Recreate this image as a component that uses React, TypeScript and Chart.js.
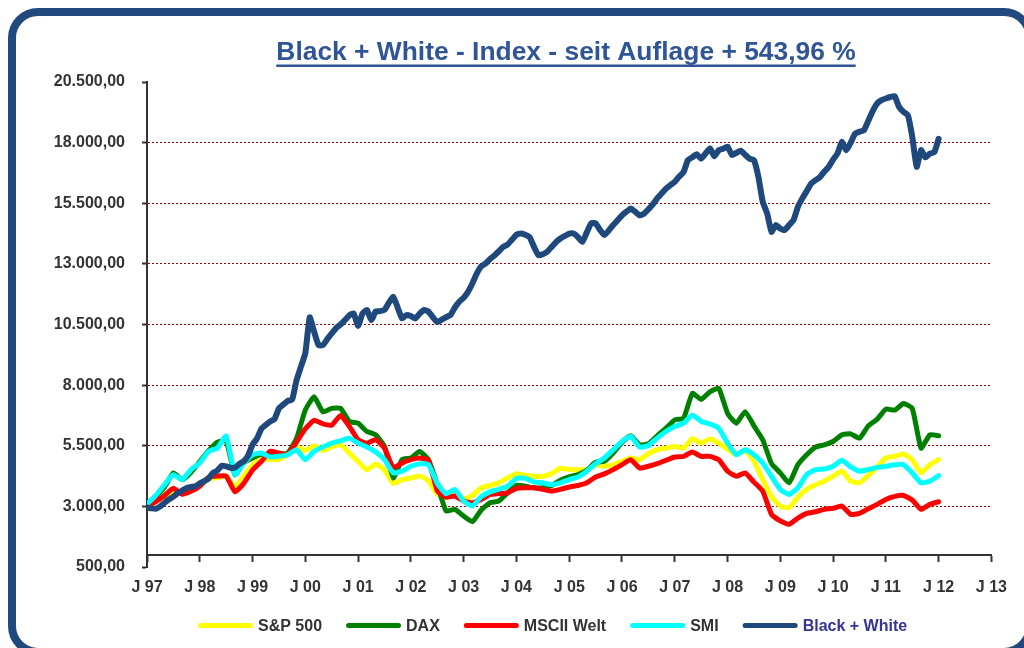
import React, { useEffect, useRef } from 'react';
import { Chart, registerables } from 'chart.js';

Chart.register(...registerables);

const TITLE = 'Black + White - Index - seit Auflage + 543,96 %';
const FIRST_YEAR = 1997;
const LAST_YEAR = 2013;
const Y_MIN = 500;
const Y_MAX = 20500;
const Y_STEP = 2500;
const X_AXIS_CROSS = 1000;

const seriesNames = ['S&P 500', 'DAX', 'MSCII Welt', 'SMI', 'Black + White'];
const seriesColors = ['#FFFF00', '#008000', '#FF0000', '#00FFFF', '#1F497D'];
const legendTextColors = ['#333333', '#333333', '#333333', '#333333', '#333399'];

// every two months, Jan 1997 .. Jan 2012
const sp500 = [
  2950, 3200, 3400, 3560, 3600, 3700, 3850, 4150, 4175, 4250,
  3800, 4250, 4700, 4950, 4930, 4930, 5150, 5450, 5300, 5500,
  5300, 5450, 5550, 5200, 4850, 4500, 4750, 4500, 3950, 4100,
  4170, 4250, 4050, 3500, 3380, 3560, 3310, 3450, 3765, 3860,
  3970, 4175, 4350, 4280, 4243, 4243, 4350, 4570, 4516, 4516,
  4516, 4710, 4653, 4710, 4860, 4995, 4926, 5170, 5335, 5404,
  5472, 5404, 5790, 5610, 5780, 5610, 5360, 5131, 5310, 4860,
  4107, 3400, 3014, 2945, 3380, 3700, 3890, 4040, 4243, 4450,
  4040, 3970, 4270, 4625, 4995, 5063, 5160, 4926, 4380, 4720, 4926,
];

const dax = [
  3100, 3400, 3800, 4380, 4100, 4400, 4850, 5300, 5650, 5700,
  4300, 4800, 5000, 5150, 5100, 5150, 5200, 5800, 6975, 7520,
  6900, 7043, 7043, 6500, 6430, 6090, 5950, 5472, 4175, 4926,
  4995, 5267, 4926, 3900, 2810, 2877, 2600, 2370, 2850, 3150,
  3220, 3560, 3870, 3833, 3765, 3765, 3860, 4080, 4215, 4310,
  4490, 4820, 4860, 5200, 5640, 5910, 5540, 5580, 5910, 6225,
  6565, 6630, 7658, 7410, 7726, 7863, 6838, 6430, 6907, 6320,
  5746, 4760, 4380, 3970, 4720, 5130, 5445, 5540, 5677, 5950,
  5990, 5815, 6320, 6590, 7010, 6970, 7240, 7043, 5404, 5950, 5910,
];

const msciWelt = [
  3000, 3200, 3450, 3750, 3500, 3620, 3830, 4200, 4250, 4250,
  3600, 3950, 4500, 4850, 5270, 5200, 5130, 5650, 6200, 6550,
  6400, 6350, 6750, 6300, 5750, 5600, 5750, 5400, 4600, 4790,
  4926, 4990, 4900, 3650, 3380, 3423, 3220, 3150, 3287, 3490,
  3530, 3560, 3740, 3765, 3765, 3700, 3630, 3700, 3800, 3860,
  3970, 4215, 4340, 4516, 4720, 4926, 4585, 4653, 4760, 4900,
  5035, 5063, 5240, 5063, 5063, 4926, 4450, 4243, 4380, 4000,
  3630, 2670, 2400, 2260, 2520, 2710, 2780, 2877, 2920, 3014,
  2672, 2710, 2900, 3082, 3287, 3410, 3450, 3260, 2877, 3082, 3190,
];

const smi = [
  3100, 3450, 3900, 4310, 4100, 4516, 4790, 5270, 5400, 5900,
  4310, 4790, 5130, 5200, 5035, 5063, 5130, 5335, 4926, 5267,
  5445, 5610, 5700, 5815, 5610, 5445, 5240, 4926, 4380, 4450,
  4653, 4760, 4720, 3950, 3520, 3697, 3220, 3014, 3400, 3600,
  3700, 3833, 4150, 4160, 4010, 3970, 3900, 3970, 4107, 4215,
  4450, 4760, 4995, 5335, 5680, 5882, 5445, 5510, 5815, 6087,
  6292, 6430, 6770, 6500, 6400, 6224, 5610, 5131, 5335, 5130,
  4790, 4243, 3700, 3490, 3765, 4310, 4516, 4540, 4653, 4900,
  4625, 4450, 4516, 4610, 4653, 4720, 4720, 4380, 3970, 4040, 4270,
];

// monthly, Jan 1997 .. Jan 2012
const blackWhite = [
  2950, 2920, 2900, 3000, 3150, 3290, 3400, 3550, 3650, 3760, 3800, 3830,
  3950, 4040, 4150, 4380, 4480, 4680, 4650, 4590, 4600, 4750, 4860, 5100,
  5550, 5800, 6200, 6360, 6500, 6600, 7040, 7200, 7350, 7400, 8200, 8760,
  9320, 10800, 10200, 9650, 9650, 9900, 10130, 10350, 10500, 10680, 10880, 10950,
  10440, 10960, 11100, 10680, 11040, 11050, 11100, 11400, 11640, 11200, 10750, 10890,
  10850, 10750, 10950, 11100, 11030, 10800, 10600, 10700, 10800, 10890, 11200, 11440,
  11600, 11850, 12200, 12610, 12900, 13020, 13200, 13350, 13520, 13700, 13800, 14000,
  14200, 14250, 14200, 14100, 13700, 13360, 13400, 13500, 13700, 13900, 14050, 14150,
  14250, 14250, 14100, 13910, 14300, 14670, 14670, 14400, 14190, 14380, 14600, 14800,
  15000, 15150, 15280, 15150, 15000, 15070, 15250, 15450, 15700, 15900, 16100, 16250,
  16380, 16600, 16790, 17280, 17400, 17520, 17340, 17550, 17760, 17440, 17690, 17750,
  17830, 17490, 17580, 17670, 17500, 17340, 17280, 16600, 15560, 15080, 14320, 14600,
  14450, 14400, 14600, 14810, 15350, 15700, 16000, 16310, 16450, 16580, 16800, 17000,
  17300, 17550, 18030, 17690, 18000, 18370, 18450, 18510, 18900, 19300, 19610, 19750,
  19820, 19880, 19910, 19470, 19270, 19130, 18240, 17000, 17690, 17390, 17550, 17600,
  18160,
];

const FONT = '"Liberation Sans", Arial, Helvetica, sans-serif';

const fmtDE = (v: number) =>
  Math.round(v).toString().replace(/\B(?=(\d{3})+(?!\d))/g, '.') + ',00';

const toPoints = (values: number[], perYear: number) =>
  values.map((v, i) => ({ x: FIRST_YEAR + i / perYear, y: v }));

const decorPlugin = {
  id: 'decor',
  afterDraw(chart: any) {
    const ctx = chart.ctx as CanvasRenderingContext2D;
    ctx.save();
    // outer rounded frame (right and bottom edges run just past the picture)
    const l = 12, t = 12, r = 1030, b = 652, rad = 26;
    ctx.strokeStyle = '#21497D';
    ctx.lineWidth = 8;
    ctx.beginPath();
    ctx.moveTo(l + rad, t);
    ctx.lineTo(r - rad, t);
    ctx.arcTo(r, t, r, t + rad, rad);
    ctx.lineTo(r, b - rad);
    ctx.arcTo(r, b, r - rad, b, rad);
    ctx.lineTo(l + rad, b);
    ctx.arcTo(l, b, l, b - rad, rad);
    ctx.lineTo(l, t + rad);
    ctx.arcTo(l, t, l + rad, t, rad);
    ctx.closePath();
    ctx.stroke();

    // title, underlined
    ctx.font = `bold 26.4px ${FONT}`;
    ctx.fillStyle = '#2F5597';
    ctx.textAlign = 'center';
    ctx.textBaseline = 'alphabetic';
    const cx = 566;
    ctx.fillText(TITLE, cx, 60);
    const tw = ctx.measureText(TITLE).width;
    ctx.fillRect(cx - tw / 2, 64.5, tw, 2.5);

    // legend
    ctx.font = `bold 16px ${FONT}`;
    const lineLen = 55, gap = 5, itemGap = 24, ly = 625.5;
    const items = chart.data.datasets.map((ds: any, i: number) => ({
      text: ds.label as string,
      color: ds.borderColor as string,
      textColor: legendTextColors[i],
    }));
    const widths = items.map((it: any) => lineLen + gap + ctx.measureText(it.text).width);
    let x = 198;
    items.forEach((it: any, i: number) => {
      ctx.strokeStyle = it.color;
      ctx.lineWidth = 5;
      ctx.lineCap = 'round';
      ctx.beginPath();
      ctx.moveTo(x + 2.5, ly);
      ctx.lineTo(x + lineLen - 2.5, ly);
      ctx.stroke();
      ctx.fillStyle = it.textColor;
      ctx.textAlign = 'left';
      ctx.textBaseline = 'middle';
      ctx.fillText(it.text, x + lineLen + gap, ly + 1);
      x += widths[i] + itemGap;
    });
    ctx.restore();
  },
};

export default function App() {
  const canvasRef = useRef<HTMLCanvasElement | null>(null);

  useEffect(() => {
    if (!canvasRef.current) return;
    const seriesData = [
      toPoints(sp500, 6),
      toPoints(dax, 6),
      toPoints(msciWelt, 6),
      toPoints(smi, 6),
      toPoints(blackWhite, 12),
    ];
    const chart = new Chart(canvasRef.current, {
      type: 'line',
      data: {
        datasets: seriesData.map((d, i) => ({
          label: seriesNames[i],
          data: d,
          borderColor: seriesColors[i],
          backgroundColor: seriesColors[i],
          borderWidth: i === 4 ? 6 : 5,
          pointRadius: 0,
          tension: 0.15,
          borderJoinStyle: 'round' as const,
          borderCapStyle: 'round' as const,
          order: 5 - i,
          fill: false,
        })),
      },
      options: {
        animation: false,
        responsive: false,
        maintainAspectRatio: false,
        devicePixelRatio: 1,
        layout: { padding: { left: 0, right: 28, top: 82, bottom: 81 } },
        plugins: {
          legend: { display: false },
          title: { display: false },
          tooltip: { enabled: false },
        },
        scales: {
          x: {
            type: 'linear',
            position: { y: X_AXIS_CROSS } as any,
            min: FIRST_YEAR,
            max: LAST_YEAR,
            ticks: {
              stepSize: 1,
              autoSkip: false,
              maxRotation: 0,
              padding: 17,
              color: '#333333',
              font: { family: FONT, size: 16, weight: 'bold' },
              callback: (v: any) => 'J ' + String(v).slice(2),
            },
            grid: {
              display: true,
              drawOnChartArea: false,
              drawTicks: true,
              tickLength: 6,
              tickColor: '#333333',
              tickWidth: 2,
            },
            border: { display: true, color: '#333333', width: 2 },
          },
          y: {
            type: 'linear',
            position: 'left',
            min: Y_MIN,
            max: Y_MAX,
            afterFit: (s: any) => {
              s.width = 147;
            },
            ticks: {
              stepSize: Y_STEP,
              padding: 17,
              color: '#333333',
              font: { family: FONT, size: 16, weight: 'bold' },
              callback: (v: any) => fmtDE(Number(v)),
            },
            grid: {
              display: true,
              drawOnChartArea: true,
              color: (c: any) =>
                c.tick && (c.tick.value === Y_MIN || c.tick.value === Y_MAX) ? 'rgba(0,0,0,0)' : '#9E0000',
              lineWidth: 1,
              drawTicks: true,
              tickLength: 5,
              tickColor: '#333333',
              tickWidth: 2,
            },
            border: { display: true, color: '#333333', width: 2, dash: [2, 2] },
          },
        },
      },
      plugins: [decorPlugin],
    });
    return () => chart.destroy();
  }, []);

  return (
    <div style={{ position: 'fixed', left: 0, top: 0, width: 1024, height: 648, background: '#ffffff' }}>
      <canvas ref={canvasRef} width={1024} height={648} style={{ display: 'block' }} />
    </div>
  );
}
